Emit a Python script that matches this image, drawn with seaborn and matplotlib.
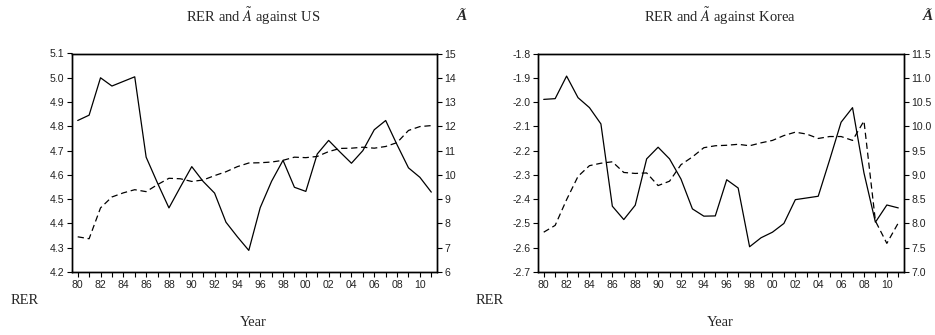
import numpy as np
import pandas as pd
import matplotlib
matplotlib.use("Agg")
import matplotlib.pyplot as plt
import seaborn as sns
from matplotlib.ticker import MultipleLocator, FormatStrFormatter, FuncFormatter

# ---------------- data ----------------
years = list(range(1980, 2012))

rer_us = [4.824, 4.846, 5.000, 4.966, 4.985, 5.004, 4.673, 4.566, 4.464, 4.550,
          4.634, 4.573, 4.525, 4.405, 4.345, 4.289, 4.465, 4.574, 4.660, 4.549,
          4.532, 4.686, 4.742, 4.694, 4.648, 4.700, 4.786, 4.824, 4.724, 4.629,
          4.590, 4.529]
a_us = [7.45, 7.37, 8.64, 9.09, 9.26, 9.39, 9.31, 9.60, 9.86, 9.84,
        9.73, 9.79, 9.97, 10.13, 10.34, 10.49, 10.50, 10.53, 10.60, 10.73,
        10.71, 10.76, 10.96, 11.09, 11.10, 11.14, 11.10, 11.17, 11.33, 11.83,
        11.99, 12.03]

rer_kr = [-1.989, -1.986, -1.893, -1.982, -2.023, -2.090, -2.429, -2.484, -2.425, -2.234,
          -2.186, -2.234, -2.317, -2.440, -2.470, -2.469, -2.320, -2.354, -2.596, -2.559,
          -2.536, -2.500, -2.402, -2.395, -2.388, -2.238, -2.083, -2.023, -2.292, -2.495,
          -2.424, -2.436]
a_kr = [7.82, 7.96, 8.49, 8.97, 9.19, 9.24, 9.27, 9.05, 9.03, 9.04,
        8.78, 8.87, 9.21, 9.37, 9.56, 9.60, 9.61, 9.63, 9.60, 9.66,
        9.71, 9.81, 9.88, 9.84, 9.75, 9.79, 9.79, 9.71, 10.11, 8.05,
        7.59, 8.01]

titles = [r"RER and $\tilde{A}$ against US", r"RER and $\tilde{A}$ against Korea"]
left_ylim = [(4.2, 5.1), (-2.7, -1.8)]
right_ylim = [(6, 15), (7.0, 11.5)]
right_step = [1, 0.5]
right_fmt = ["%d", "%.1f"]

# ---------------- style ----------------
sns.set_style("ticks")
plt.rcParams["font.family"] = ["Liberation Sans", "DejaVu Sans"]
plt.rcParams["mathtext.fontset"] = "stix"
plt.rcParams["axes.unicode_minus"] = False

fig = plt.figure(figsize=(9.35, 3.35), dpi=100)

axes_pos = [[72/935, 1-272/335, (437-72)/935, (272-53.5)/335],
            [538/935, 1-272/335, (904-538)/935, (272-53.5)/335]]
panel_center = [253, 720]
a_label_x = [462, 928]
rer_label_x = [25, 490]

data = [(rer_us, a_us), (rer_kr, a_kr)]
serif = "Liberation Serif"

for i in range(2):
    ax = fig.add_axes(axes_pos[i])
    ax2 = ax.twinx()
    rer, a = data[i]
    df = pd.DataFrame({"Year": years, "RER": rer, "A": a})
    sns.lineplot(data=df, x="Year", y="RER", ax=ax, color="black", lw=0.9)
    sns.lineplot(data=df, x="Year", y="A", ax=ax2, color="black", lw=0.9,
                 linestyle=(0, (5, 3)))
    ax.set_xlim(1979.5, 2011.5)
    ax.set_ylim(*left_ylim[i])
    ax2.set_ylim(*right_ylim[i])
    ax.yaxis.set_major_locator(MultipleLocator(0.1))
    ax.yaxis.set_major_formatter(FormatStrFormatter("%.1f"))
    ax2.yaxis.set_major_locator(MultipleLocator(right_step[i]))
    ax2.yaxis.set_major_formatter(FormatStrFormatter(right_fmt[i]))
    ax.xaxis.set_major_locator(MultipleLocator(1))
    ax.xaxis.set_major_formatter(FuncFormatter(
        lambda v, p: ("%02d" % (int(round(v)) % 100)) if int(round(v)) % 2 == 0 else ""))
    for a_ in (ax, ax2):
        a_.set_xlabel("")
        a_.set_ylabel("")
        a_.tick_params(direction="out", length=3.5, width=0.8, labelsize=7.6, pad=2,
                       color="black", labelcolor="#222222")
        for s in a_.spines.values():
            s.set_visible(True)
            s.set_linewidth(1.0)
            s.set_color("black")
    ax.set_facecolor("white")

    fig.text(panel_center[i]/935, 1-16/335, titles[i], ha="center", va="center",
             fontsize=10.5, family=serif)
    fig.text(a_label_x[i]/935, 1-16/335, "Ã", ha="center", va="center",
             fontsize=11, family=serif, fontweight="bold", style="italic")
    fig.text(rer_label_x[i]/935, 1-300/335, "RER", ha="center", va="center",
             fontsize=10.5, family=serif)
    fig.text(panel_center[i]/935, 1-323/335, "Year", ha="center", va="center",
             fontsize=10.5, family=serif)

fig.savefig("out.png", dpi=100, facecolor="white")
